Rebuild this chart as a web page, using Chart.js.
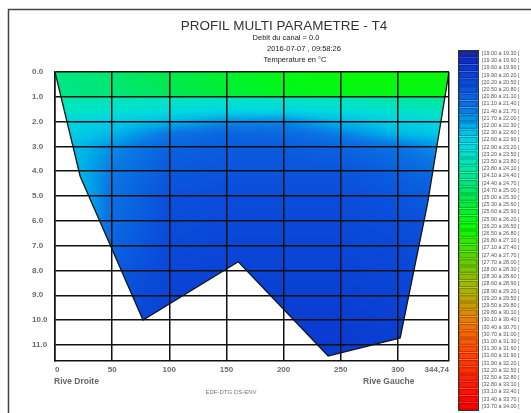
<!DOCTYPE html>
<html>
<head>
<meta charset="utf-8">
<title>Profil multi parametre - T4</title>
<script src="https://cdn.jsdelivr.net/npm/chart.js@4.4.1/dist/chart.umd.min.js"></script>
<style>
  html, body { margin: 0; padding: 0; background: #fff; }
</style>
</head>
<body>
<canvas id="myChart" width="531" height="413"></canvas>
<script>
'use strict';

// profil du lit : distance depuis la rive droite (m) et profondeur (m)
let profileX = [0, 22, 77, 160.4, 239, 302, 326, 344.74];
let profileDepth = [0, 4.2, 10.0, 7.65, 11.45, 10.72, 5.3, 0];

// temperatures (lignes = profondeur, colonnes = distance)
let gridX = [0, 25, 50, 100, 150, 200, 250, 300, 344.74];
let gridDepth = [0, 0.95, 1.05, 1.5, 2, 2.5, 3, 4, 5, 6, 7, 8, 9, 10, 12];
let gridTemp = [
  [24.5, 24.6, 24.7, 25.2, 25.7, 26.1, 26.3, 26.3, 26.3],
  [24.4, 24.5, 24.6, 25.0, 25.5, 25.9, 26.1, 26.1, 26.1],
  [23.9, 23.8, 23.7, 23.6, 23.5, 23.6, 23.7, 24.0, 24.2],
  [23.6, 23.5, 23.4, 23.2, 23.0, 23.0, 23.2, 23.5, 23.7],
  [23.0, 22.9, 22.7, 22.3, 21.8, 21.7, 22.3, 22.8, 23.1],
  [22.7, 22.6, 22.3, 21.4, 21.0, 21.1, 21.6, 22.3, 22.6],
  [22.4, 22.3, 21.8, 21.0, 20.8, 20.8, 21.0, 21.4, 22.0],
  [22.3, 22.2, 21.5, 20.7, 20.6, 20.6, 20.6, 20.9, 21.3],
  [22.3, 22.3, 21.3, 20.5, 20.4, 20.4, 20.4, 20.6, 20.9],
  [22.3, 22.3, 21.2, 20.4, 20.3, 20.3, 20.3, 20.4, 20.7],
  [22.2, 22.2, 21.0, 20.3, 20.2, 20.2, 20.2, 20.3, 20.5],
  [22.0, 22.0, 20.8, 20.2, 20.1, 20.1, 20.1, 20.2, 20.4],
  [21.6, 21.6, 20.6, 20.1, 20.0, 20.0, 20.0, 20.1, 20.3],
  [21.2, 21.2, 20.4, 20.0, 19.9, 19.9, 19.9, 20.0, 20.2],
  [20.6, 20.6, 20.2, 19.9, 19.8, 19.8, 19.8, 19.9, 20.0]
];

let xTicks = [0, 50, 100, 150, 200, 250, 300, 344.74];
let yTicks = [0, 1, 2, 3, 4, 5, 6, 7, 8, 9, 10, 11];

// classes de la legende
let legendMin = 19.0;
let legendStep = 0.3;
let legendCount = 50;

let colorStops = [
  [19.0, '#1c2a8c'], [19.3, '#0d2ac0'], [19.6, '#0a33cc'], [20.0, '#0a40d4'],
  [20.5, '#0a50dc'], [21.0, '#0a64e0'], [21.5, '#0a78e4'], [22.0, '#00a0e8'],
  [22.5, '#00c4e6'], [23.0, '#00d8e0'], [23.5, '#00e4c4'], [24.0, '#00e6a0'],
  [24.5, '#00e680'], [25.0, '#00e858'], [25.5, '#00ee38'], [26.0, '#00f818'],
  [26.5, '#10f800'], [27.0, '#30e800'], [27.5, '#50d800'], [28.0, '#70c800'],
  [28.5, '#90bc00'], [29.0, '#a8b400'], [29.5, '#c0a000'], [30.0, '#e08800'],
  [30.5, '#f07000'], [31.0, '#f86000'], [31.5, '#ff4800'], [32.0, '#ff3800'],
  [32.5, '#ff2800'], [33.0, '#ff1800'], [33.5, '#ff0800'], [34.0, '#ff0000']
];

function hexRgb(h) {
  return [parseInt(h.substr(1, 2), 16), parseInt(h.substr(3, 2), 16), parseInt(h.substr(5, 2), 16)];
}

function tempColor(t) {
  if (t <= colorStops[0][0]) return hexRgb(colorStops[0][1]);
  for (let i = 0; i < colorStops.length - 1; i++) {
    let a = colorStops[i], b = colorStops[i + 1];
    if (t <= b[0]) {
      let f = (t - a[0]) / (b[0] - a[0]);
      let ca = hexRgb(a[1]), cb = hexRgb(b[1]);
      return [0, 1, 2].map(k => Math.round(ca[k] + (cb[k] - ca[k]) * f));
    }
  }
  return hexRgb(colorStops[colorStops.length - 1][1]);
}

function findCell(arr, v) {
  let i = 0;
  while (i < arr.length - 2 && v > arr[i + 1]) i++;
  let f = (v - arr[i]) / (arr[i + 1] - arr[i]);
  return [i, Math.max(0, Math.min(1, f))];
}

function tempAt(xv, d) {
  let [i, fx] = findCell(gridX, xv);
  let [j, fy] = findCell(gridDepth, d);
  let top = gridTemp[j][i] + (gridTemp[j][i + 1] - gridTemp[j][i]) * fx;
  let bot = gridTemp[j + 1][i] + (gridTemp[j + 1][i + 1] - gridTemp[j + 1][i]) * fx;
  return top + (bot - top) * fy;
}

const heatPlugin = {
  id: 'heat',
  beforeDatasetsDraw(chart) {
    const {ctx, chartArea: a, scales: {x, y}} = chart;
    const w = Math.round(a.right - a.left);
    const h = Math.round(a.bottom - a.top);
    const off = document.createElement('canvas');
    off.width = w;
    off.height = h;
    const octx = off.getContext('2d');
    const img = octx.createImageData(w, h);
    for (let j = 0; j < h; j++) {
      const d = y.getValueForPixel(a.top + j + 0.5);
      for (let i = 0; i < w; i++) {
        const c = tempColor(tempAt(x.getValueForPixel(a.left + i + 0.5), d));
        const k = (j * w + i) * 4;
        img.data[k] = c[0];
        img.data[k + 1] = c[1];
        img.data[k + 2] = c[2];
        img.data[k + 3] = 255;
      }
    }
    octx.putImageData(img, 0, 0);

    ctx.save();
    ctx.beginPath();
    for (let i = 0; i < profileX.length; i++) {
      const px = x.getPixelForValue(profileX[i]);
      const py = y.getPixelForValue(profileDepth[i]);
      if (i === 0) ctx.moveTo(px, py); else ctx.lineTo(px, py);
    }
    ctx.closePath();
    ctx.clip();
    ctx.drawImage(off, a.left, a.top);
    ctx.restore();
  }
};

const decorPlugin = {
  id: 'decor',
  afterDraw(chart) {
    const ctx = chart.ctx;
    ctx.save();

    // cadre
    ctx.strokeStyle = '#444';
    ctx.lineWidth = 1.5;
    ctx.beginPath();
    ctx.moveTo(8.5, 413);
    ctx.lineTo(8.5, 9.5);
    ctx.lineTo(531, 9.5);
    ctx.stroke();

    ctx.textBaseline = 'middle';
    ctx.textAlign = 'center';
    ctx.fillStyle = '#333';
    ctx.font = '13.5px "Liberation Sans", Arial, sans-serif';
    ctx.fillText('PROFIL MULTI PARAMETRE - T4', 284, 26);
    ctx.fillStyle = '#222';
    ctx.font = '7.5px "Liberation Sans", Arial, sans-serif';
    ctx.fillText('Debit du canal = 0.0', 286, 38);
    ctx.fillText('2016-07-07 , 09:58:26', 304, 49);
    ctx.fillText('Temperature en \u00b0C', 295, 60);

    ctx.fillStyle = '#666';
    ctx.font = 'bold 8.5px "Liberation Sans", Arial, sans-serif';
    ctx.textAlign = 'left';
    ctx.fillText('Rive Droite', 54, 382);
    ctx.fillText('Rive Gauche', 363, 382);
    ctx.textAlign = 'center';
    ctx.fillStyle = '#777';
    ctx.font = '6px "Liberation Sans", Arial, sans-serif';
    ctx.fillText('EDF-DTG DS-ENV', 231, 392);

    // legende des classes de temperature
    const bx = 458, bw = 20, top = 50, bh = 7.2;
    ctx.textAlign = 'left';
    ctx.font = '5.4px "Liberation Sans", Arial, sans-serif';
    for (let k = 0; k < legendCount; k++) {
      const lo = legendMin + k * legendStep;
      const c = tempColor(lo + legendStep / 2);
      const yy = top + k * bh;
      ctx.fillStyle = 'rgb(' + c.join(',') + ')';
      ctx.fillRect(bx, yy, bw, bh);
      ctx.strokeStyle = 'rgba(0,0,0,0.25)';
      ctx.lineWidth = 1;
      ctx.strokeRect(bx + 1.5, yy + 1, bw - 3, bh - 2);
      ctx.fillStyle = '#555';
      ctx.fillText('[' + lo.toFixed(2) + ' \u00e0 ' + (lo + legendStep).toFixed(2) + ' [', 482, yy + bh / 2);
    }
    ctx.strokeStyle = '#333';
    ctx.lineWidth = 1;
    ctx.strokeRect(bx + 0.5, top + 0.5, bw, legendCount * bh);
    ctx.restore();
  }
};

let tickFont = {family: '"Liberation Sans", Arial, sans-serif', size: 8, weight: 'bold'};

let ctx = document.getElementById('myChart').getContext('2d');
let myChart = new Chart(ctx, {
  type: 'line',
  data: {
    datasets: [{
      data: profileX.map((v, i) => ({x: v, y: profileDepth[i]})),
      borderColor: '#151515',
      borderWidth: 1.3,
      pointRadius: 0,
      fill: false,
      tension: 0
    }]
  },
  options: {
    responsive: false,
    animation: false,
    layout: {padding: {left: 32, top: 72, right: 82, bottom: 0}},
    plugins: {
      legend: {display: false},
      tooltip: {enabled: false}
    },
    scales: {
      x: {
        type: 'linear',
        min: 0,
        max: 344.74,
        afterBuildTicks: s => { s.ticks = xTicks.map(v => ({value: v})); },
        afterFit: s => { s.height = 52; },
        grid: {color: '#111', lineWidth: 1.5, drawTicks: false, z: 1},
        border: {color: '#111', width: 1.5, z: 1},
        ticks: {
          padding: 4,
          align: 'inner',
          maxRotation: 0,
          autoSkip: false,
          color: '#6a6a6a',
          font: tickFont,
          callback: v => String(v).replace('.', ',')
        }
      },
      y: {
        type: 'linear',
        reverse: true,
        min: 0,
        max: 11.65,
        afterBuildTicks: s => { s.ticks = yTicks.map(v => ({value: v})); },
        afterFit: s => { s.width = 23; },
        grid: {color: '#111', lineWidth: 1.5, drawTicks: false, z: 1},
        border: {color: '#111', width: 1.5, z: 1},
        ticks: {
          padding: 0,
          crossAlign: 'far',
          autoSkip: false,
          color: '#6a6a6a',
          font: tickFont,
          callback: v => v.toFixed(1)
        }
      }
    }
  },
  plugins: [heatPlugin, decorPlugin]
});
</script>
</body>
</html>
